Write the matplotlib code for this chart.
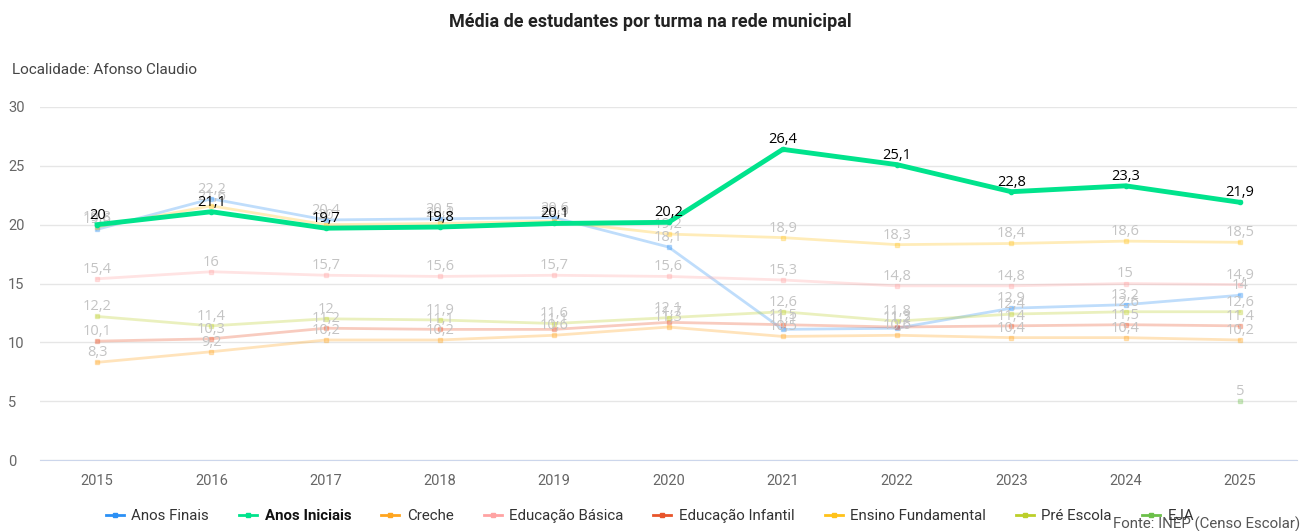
import matplotlib.pyplot as plt
from matplotlib.lines import Line2D
import numpy as np

plt.rcParams['font.family'] = ['Roboto', 'DejaVu Sans']

years = ['2015', '2016', '2017', '2018', '2019', '2020', '2021', '2022', '2023', '2024', '2025']

anos_finais = [19.6, 22.2, 20.4, 20.5, 20.6, 18.1, 11.1, 11.2, 12.9, 13.2, 14]
anos_iniciais = [20, 21.1, 19.7, 19.8, 20.1, 20.2, 26.4, 25.1, 22.8, 23.3, 21.9]
creche = [8.3, 9.2, 10.2, 10.2, 10.6, 11.3, 10.5, 10.6, 10.4, 10.4, 10.2]
educacao_basica = [15.4, 16, 15.7, 15.6, 15.7, 15.6, 15.3, 14.8, 14.8, 15, 14.9]
educacao_infantil = [10.1, 10.3, 11.2, 11.1, 11.1, 11.7, 11.5, 11.3, 11.4, 11.5, 11.4]
ensino_fundamental = [19.8, 21.6, 20.0, 20.1, 20.3, 19.2, 18.9, 18.3, 18.4, 18.6, 18.5]
pre_escola = [12.2, 11.4, 12, 11.9, 11.6, 12.1, 12.6, 11.8, 12.4, 12.6, 12.6]
eja = [None] * 10 + [5]

series = [
    ('Anos Finais', anos_finais, '#2b90f5'),
    ('Anos Iniciais', anos_iniciais, '#00e38c'),
    ('Creche', creche, '#ffa51f'),
    ('Educação Básica', educacao_basica, '#ffa3a3'),
    ('Educação Infantil', educacao_infantil, '#e8552b'),
    ('Ensino Fundamental', ensino_fundamental, '#ffc21a'),
    ('Pré Escola', pre_escola, '#bccf2a'),
    ('EJA', eja, '#6cc04a'),
]
highlight = 'Anos Iniciais'


def fmt(v):
    if float(v).is_integer():
        return str(int(v))
    return ('%.1f' % v).replace('.', ',')


fig = plt.figure(figsize=(13, 5.31), dpi=100)
ax = fig.add_axes([40 / 1300, 1 - 460 / 531, 1257 / 1300, 353 / 531])

label_font = ['Open Sans', 'DejaVu Sans']
x = np.arange(len(years))
for name, vals, color in series:
    if name == highlight:
        continue
    xs = [i for i, v in zip(x, vals) if v is not None]
    ys = [v for v in vals if v is not None]
    ax.plot(xs, ys, color=color, alpha=0.3, lw=2, marker='s', ms=3.5, zorder=2)
    for xi, yi in zip(xs, ys):
        ax.annotate(fmt(yi), (xi, yi), xytext=(0, 1.5), textcoords='offset points',
                    ha='center', va='bottom', fontsize=10.5, color='#c4c4c4',
                    family=label_font, zorder=3)

for name, vals, color in series:
    if name != highlight:
        continue
    ax.plot(x, vals, color=color, lw=3.5, marker='o', ms=3, zorder=5)
    for xi, yi in zip(x, vals):
        ax.annotate(fmt(yi), (xi, yi), xytext=(0, 1.5), textcoords='offset points',
                    ha='center', va='bottom', fontsize=10.5, color='black',
                    family=label_font, zorder=6)

ax.set_xlim(-0.5, len(years) - 0.5)
ax.set_ylim(0, 30)
ax.set_yticks([0, 5, 10, 15, 20, 25, 30])
ax.set_xticks(x)
ax.set_xticklabels(years)
ax.grid(axis='y', color='#e6e6e6', lw=1)
ax.set_axisbelow(True)
for s in ['top', 'right', 'left']:
    ax.spines[s].set_visible(False)
ax.spines['bottom'].set_color('#ccd6eb')
ax.tick_params(axis='both', length=0, labelsize=10.5, colors='#666666')
ax.tick_params(axis='x', pad=10)
ax.tick_params(axis='y', pad=23)
for lbl in ax.get_yticklabels():
    lbl.set_horizontalalignment('left')

fig.text(0.5, 1 - 22 / 531, 'Média de estudantes por turma na rede municipal',
         ha='center', va='center', fontsize=13, fontweight='bold', color='#222222')
fig.text(12 / 1300, 1 - 70 / 531, 'Localidade: Afonso Claudio',
         ha='left', va='center', fontsize=11, color='#444444')

handles = [Line2D([0], [0], color=c, lw=2, marker='s', ms=3) for _, _, c in series]
labels = [n for n, _, _ in series]
leg = fig.legend(handles, labels, loc='center', bbox_to_anchor=(0.5, 1 - 516 / 531),
                 ncol=8, frameon=False, fontsize=10.8, handlelength=1.2,
                 columnspacing=2.0, handletextpad=0.5)
for t in leg.get_texts():
    t.set_color('#333333')
    if t.get_text() == highlight:
        t.set_fontweight('bold')
        t.set_color('#111111')

fig.text(1300 / 1300, 1 - 524 / 531, 'Fonte: INEP (Censo Escolar)',
         ha='right', va='center', fontsize=10.8, color='#555555')

fig.savefig('out.png', dpi=100)
